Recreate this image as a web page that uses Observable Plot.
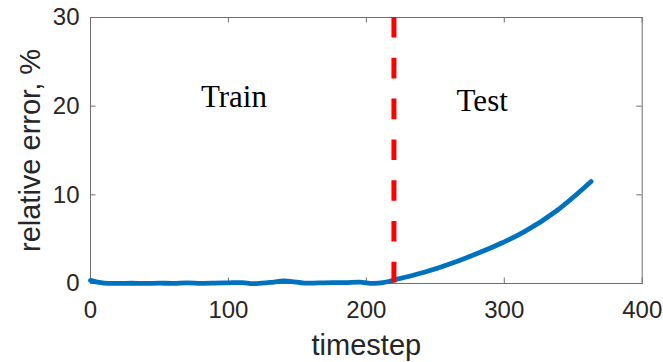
<!DOCTYPE html>
<html>
<head>
<meta charset="utf-8">
<script src="https://cdn.jsdelivr.net/npm/d3@7"></script>
<script src="https://cdn.jsdelivr.net/npm/@observablehq/plot@0.6"></script>
<style>
  html, body { margin: 0; padding: 0; background: #fff; }
  #chart svg { display: block; }
</style>
</head>
<body>
<div id="chart"></div>
<script>
// ---- data ----
const trainSteps = [0, 5, 10, 20, 30, 40, 50, 60, 70, 80, 90, 100, 110, 118, 130, 140, 146, 155, 165, 175, 185, 195, 205, 212, 220];
const trainError = [0.35, 0.15, 0.05, 0.02, 0.03, 0.01, 0.04, 0.02, 0.08, 0.02, 0.04, 0.08, 0.1, -0.02, 0.12, 0.28, 0.22, 0.04, 0.06, 0.1, 0.1, 0.15, 0.02, 0.1, 0.4];
const testSteps = [220, 242, 266, 290, 300, 314, 338, 363];
const testError = [0.4, 1.27, 2.51, 4.0, 4.7, 5.79, 8.2, 11.5];
const splitStep = [220];
const xTicks = [0, 100, 200, 300, 400];
const yTicks = [0, 10, 20, 30];
const phaseLabels = ["Train", "Test"];
const phaseLabelX = [104, 284];
const phaseLabelY = [19.9, 19.5];
const xLabel = "timestep";
const yLabel = "relative error, %";

// ---- build ----
const trainData = trainSteps.map((t, i) => ({t, e: trainError[i]}));
const testData = testSteps.map((t, i) => ({t, e: testError[i]}));
const labels = phaseLabels.map((s, i) => ({s, x: phaseLabelX[i], y: phaseLabelY[i]}));

const W = 663, H = 362;
const mL = 90, mR = 21.3, mT = 17, mB = 79;
const plotH = H - mT - mB;
const plotW = W - mL - mR;
const tl = 5.5;
const axisColor = "#262626";
const frameColor = "#6e6e6e";

const chart = Plot.plot({
  width: W,
  height: H,
  marginLeft: mL,
  marginRight: mR,
  marginTop: mT,
  marginBottom: mB,
  style: {fontFamily: "'Liberation Sans', Arial, sans-serif", background: "#fff", color: axisColor, overflow: "visible"},
  x: {domain: [0, 400]},
  y: {domain: [0, 30]},
  marks: [
    Plot.frame({stroke: frameColor, strokeWidth: 1}),
    // inside ticks on all four sides
    Plot.tickX(xTicks, {x: d => d, insetTop: plotH - tl, stroke: frameColor}),
    Plot.tickX(xTicks, {x: d => d, insetBottom: plotH - tl, stroke: frameColor}),
    Plot.tickY(yTicks, {y: d => d, insetRight: plotW - tl, stroke: frameColor}),
    Plot.tickY(yTicks, {y: d => d, insetLeft: plotW - tl, stroke: frameColor}),
    Plot.axisX({ticks: xTicks, tickSize: 0, tickPadding: 17, fontSize: 24, label: null, tickFormat: d => String(d)}),
    Plot.axisY({ticks: yTicks, tickSize: 0, tickPadding: 11, fontSize: 24, label: null, tickFormat: d => String(d)}),
    Plot.text([xLabel], {frameAnchor: "bottom", lineAnchor: "bottom", textAnchor: "middle", dy: 71, fontSize: 29, fill: axisColor}),
    Plot.text([yLabel], {frameAnchor: "left", textAnchor: "middle", lineAnchor: "middle", rotate: -90, dx: -60, fontSize: 29, fill: axisColor}),
    Plot.line(trainData, {x: "t", y: "e", stroke: "#0072BD", strokeWidth: 4.8, curve: "catmull-rom", strokeLinecap: "round", strokeLinejoin: "round"}),
    Plot.line(testData, {x: "t", y: "e", stroke: "#0072BD", strokeWidth: 4.8, curve: "natural", strokeLinecap: "round", strokeLinejoin: "round"}),
    Plot.ruleX(splitStep, {x: d => d, stroke: "#FF0000", strokeWidth: 5, strokeDasharray: "20.6,20.2"}),
    Plot.text(labels, {x: "x", y: "y", text: "s", lineAnchor: "bottom", fontSize: 31, fontFamily: "'Liberation Serif', 'Times New Roman', serif", fill: "#000"})
  ]
});
document.getElementById("chart").appendChild(chart);
</script>
</body>
</html>
